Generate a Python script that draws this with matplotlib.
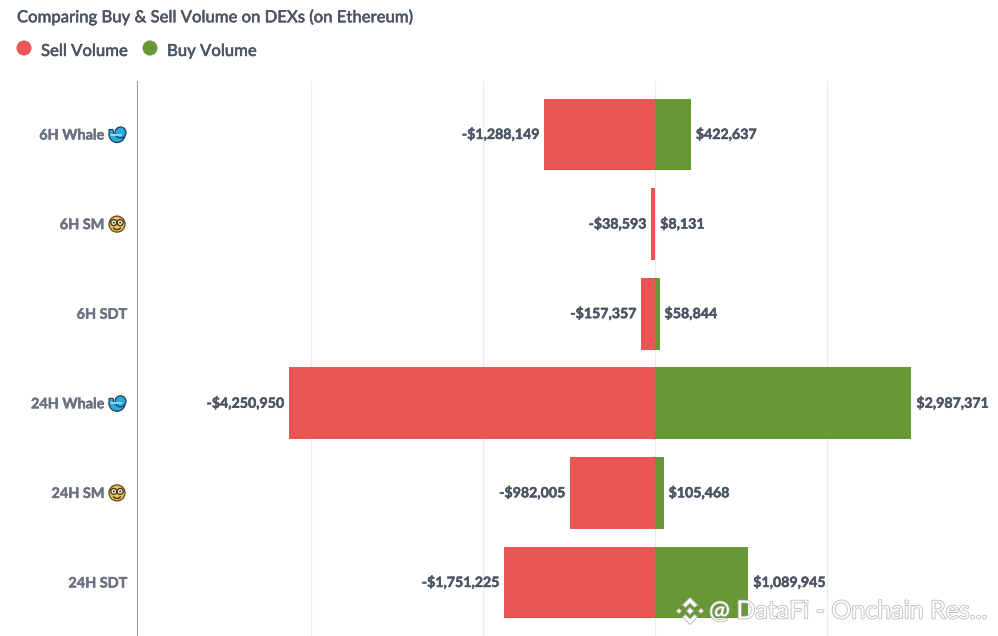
import matplotlib
matplotlib.use('Agg')
import matplotlib.pyplot as plt
import matplotlib.patheffects as pe
from matplotlib.patches import Circle, Polygon, Arc, Wedge
from matplotlib.transforms import Affine2D, IdentityTransform

plt.rcParams['font.family'] = ['Lato', 'DejaVu Sans']

categories = ['6H Whale', '6H SM', '6H SDT', '24H Whale', '24H SM', '24H SDT']
icons = ['whale', 'nerd', None, 'whale', 'nerd', None]
sell_volume = [-1288149, -38593, -157357, -4250950, -982005, -1751225]
buy_volume = [422637, 8131, 58844, 2987371, 105468, 1089945]
grid_ticks = [-4000000, -2000000, 0, 2000000]

RED = '#e85656'
GREEN = '#689835'
TEXT = '#4b5563'
LABEL = '#6b7280'
W, H = 998, 636

fig = plt.figure(figsize=(W / 100, H / 100), dpi=100)
ax = fig.add_axes([136.5 / W, 0, (W - 136.5) / W, (H - 81) / H])

# 86px per 1M, zero sits at x=654.5
ax.set_xlim((136.5 - 654.5) / 86 * 1e6, (W - 654.5) / 86 * 1e6)
ax.set_ylim(5 + 53.5 / 89.6, -53.5 / 89.6)

ax.set_axisbelow(True)
ax.set_xticks(grid_ticks)
ax.grid(axis='x', color='#ececec', linewidth=0.9)
ax.tick_params(left=False, bottom=False, labelleft=False, labelbottom=False)
for side in ['top', 'right', 'bottom']:
    ax.spines[side].set_visible(False)
ax.spines['left'].set_color('#9a9a9a')
ax.spines['left'].set_linewidth(0.8)

ypos = range(len(categories))
ax.barh(ypos, sell_volume, height=0.8, color=RED, linewidth=0)
ax.barh(ypos, buy_volume, height=0.8, color=GREEN, linewidth=0)

# Lato bold comes out a bit thin next to the source, thicken it slightly
thick = [pe.withStroke(linewidth=0.35, foreground=TEXT)]
for i, (s, b) in enumerate(zip(sell_volume, buy_volume)):
    ax.annotate(f'-${abs(s):,}', (s, i), xytext=(-5, 0), textcoords='offset pixels',
                ha='right', va='center', fontsize=10.2, fontweight='bold', color=TEXT,
                path_effects=thick)
    ax.annotate(f'${b:,}', (b, i), xytext=(5, 0), textcoords='offset pixels',
                ha='left', va='center', fontsize=10.2, fontweight='bold', color=TEXT,
                path_effects=thick)


def draw_whale(cx, cy):
    tr = Affine2D().translate(cx, cy)
    kw = dict(transform=tr, clip_on=False)
    fig.add_artist(Wedge((0, 0), 8, 180, 360, fc='#29a9dc', ec='#1d3d57', lw=0.9, **kw))
    fig.add_artist(Circle((3.5, 2), 5.5, fc='#29a9dc', ec='#1d3d57', lw=0.9, **kw))
    fig.add_artist(Polygon([(-8, 0), (-8, 5), (-4, 5), (-3, 0)], fc='#29a9dc', ec='#1d3d57', lw=0.8, **kw))
    fig.add_artist(Polygon([(-7, -1), (5, -1), (5, 1), (-7, 1)], fc='#8fd3ef', lw=0, **kw))


def draw_nerd(cx, cy):
    tr = Affine2D().translate(cx, cy)
    kw = dict(transform=tr, clip_on=False)
    fig.add_artist(Circle((0, 0), 8, fc='#f2c14e', ec='#5a4320', lw=0.9, **kw))
    for dx in (-3.2, 3.2):
        fig.add_artist(Circle((dx, 1.5), 3, fc='#f6ecd0', ec='#3d3020', lw=0.9, **kw))
        fig.add_artist(Circle((dx, 1.5), 1, fc='#3d3020', lw=0, **kw))
    fig.add_artist(Arc((0, -2), 8, 7, theta1=200, theta2=340, ec='#3d3020', lw=1, **kw))


fig.canvas.draw()
label_thick = [pe.withStroke(linewidth=0.35, foreground=LABEL)]
for i, (name, icon) in enumerate(zip(categories, icons)):
    row_y = ax.transData.transform((0, i))[1]
    right = 104 if icon else 127
    fig.text(right / W, (row_y - 1) / H, name, ha='right', va='center', fontsize=10.4,
             fontweight='bold', color=LABEL, path_effects=label_thick)
    if icon == 'whale':
        draw_whale(117, row_y)
    elif icon == 'nerd':
        draw_nerd(117, row_y)

title_thick = [pe.withStroke(linewidth=0.3, foreground=TEXT)]
fig.text(17 / W, (H - 17) / H, 'Comparing Buy & Sell Volume on DEXs (on Ethereum)',
         ha='left', va='center', fontsize=12, fontweight='medium', color=TEXT,
         path_effects=title_thick)

# legend, laid out by hand as in the source
for x, label, color in [(24, 'Sell Volume', RED), (150, 'Buy Volume', GREEN)]:
    fig.add_artist(Circle((x, H - 48), 7.5, fc=color, lw=0, transform=IdentityTransform()))
    fig.text((x + 17) / W, (H - 51) / H, label, ha='left', va='center', fontsize=12,
             fontweight='medium', color=TEXT, path_effects=title_thick)

# watermark
shadow = [pe.withStroke(linewidth=1.1, foreground='#b5b5b5')]
fig.text(709 / W, (H - 611) / H, '@ DataFi - Onchain Res...', ha='left', va='center',
         fontsize=18, color='white', path_effects=shadow)
logo_x, logo_y = 690, H - 611
shapes = [
    [(0, 3.5), (3.5, 0), (0, -3.5), (-3.5, 0)],
    [(-11, 2.5), (-8.5, 0), (-11, -2.5), (-13.5, 0)],
    [(11, 2.5), (13.5, 0), (11, -2.5), (8.5, 0)],
    [(0, 13.5), (7.5, 6), (4.5, 3.5), (0, 8), (-4.5, 3.5), (-7.5, 6)],
    [(0, -13.5), (7.5, -6), (4.5, -3.5), (0, -8), (-4.5, -3.5), (-7.5, -6)],
]
for pts in shapes:
    fig.add_artist(Polygon([(logo_x + px, logo_y + py) for px, py in pts], fc='white',
                           ec='#b5b5b5', lw=0.6, transform=IdentityTransform()))

fig.savefig('out.png', dpi=100)
